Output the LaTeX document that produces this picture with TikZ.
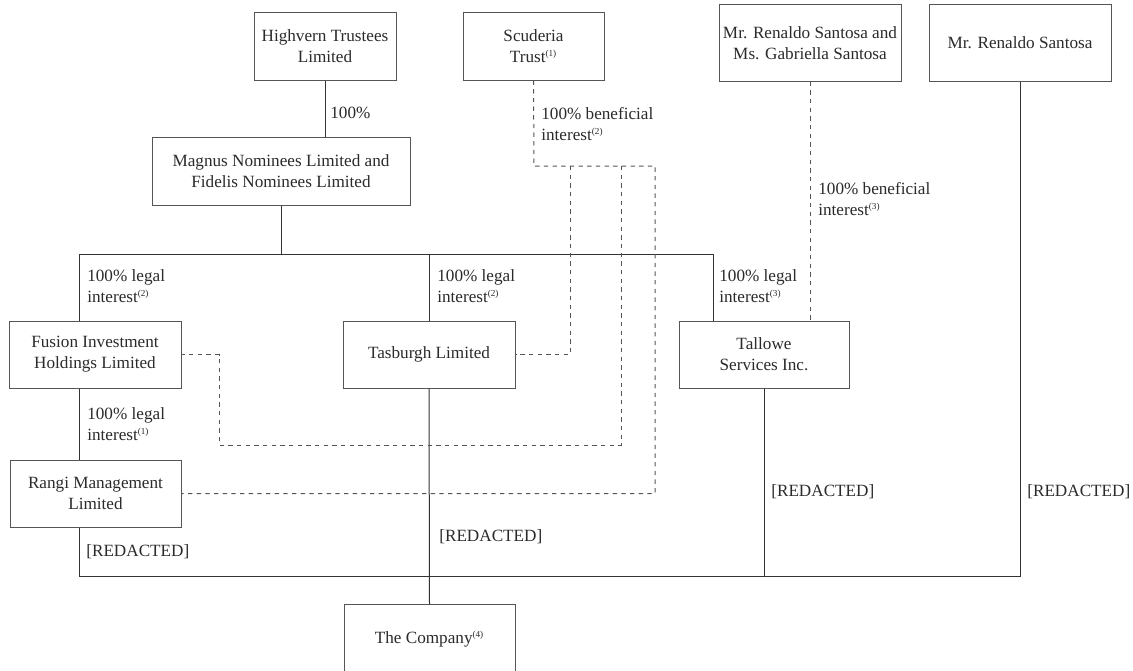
\documentclass[tikz,border=0pt]{standalone}
\usepackage{fontspec}
\setmainfont{Liberation Serif}
\newcommand{\fnm}[1]{\textsuperscript{\fontsize{5.5}{6}\selectfont(#1)}}
\definecolor{boxgray}{HTML}{555555}
\definecolor{linegray}{HTML}{333333}
\definecolor{txtgray}{HTML}{2A2A2A}
\begin{document}
\begin{tikzpicture}[x=0.6pt,y=-0.6pt,
  every node/.style={text=txtgray,font=\fontsize{10.3}{12.6}\selectfont},
  entity/.style={draw=boxgray,line width=0.6pt,align=center,inner sep=0pt},
  conn/.style={draw=linegray,line width=0.6pt},
  dconn/.style={draw=boxgray,line width=0.6pt,dash pattern=on 2.6pt off 2.6pt},
  lbl/.style={anchor=west,align=left,inner sep=0pt}]
\useasboundingbox (0,0) rectangle (1133,671);
% entities
\node[entity,minimum width=85.2pt,minimum height=40.8pt] (hv) at (325,46) {Highvern Trustees\\Limited};
\node[entity,minimum width=84.6pt,minimum height=40.8pt] (sc) at (533.5,46) {Scuderia\\Trust\fnm{1}};
\node[entity,minimum width=109.2pt,minimum height=45.9pt] (rg) at (810,42.75) {Mr. Renaldo Santosa and\\Ms. Gabriella Santosa};
\node[entity,minimum width=109.2pt,minimum height=45.9pt] (rs) at (1020,42.75) {Mr. Renaldo Santosa};
\node[entity,minimum width=154.8pt,minimum height=40.8pt] (mg) at (281,171) {Magnus Nominees Limited and\\Fidelis Nominees Limited};
\node[entity,minimum width=103.2pt,minimum height=40.2pt] (fu) at (95,354.5) {Fusion Investment\\Holdings Limited};
\node[entity,minimum width=103.2pt,minimum height=40.2pt] (ta) at (429,354.5) {Tasburgh Limited};
\node[entity,minimum width=102pt,minimum height=40.2pt] (tl) at (764,354.5) {Tallowe\\Services Inc.};
\node[entity,minimum width=102.6pt,minimum height=40.2pt] (ra) at (95.5,493.5) {Rangi Management\\Limited};
\node[entity,minimum width=102.6pt,minimum height=42pt] (co) at (429.5,639.5) {The Company\fnm{4}};
% bus coordinates
\coordinate (bl) at (79,254);
\coordinate (br) at (713,254);
\coordinate (ll) at (79,576);
\coordinate (lr) at (1020,576);
% solid connectors
\draw[conn] (hv.south) -- (hv.south |- mg.north);
\draw[conn] (mg.south) -- (mg.south |- bl);
\draw[conn] (bl |- fu.north) -- (bl) -- (br) -- (br |- tl.north);
\draw[conn] (ta.north) -- (ta.north |- bl);
\draw[conn] (fu.south -| bl) -- (ra.north -| bl);
\draw[conn] (ra.south -| ll) -- (ll) -- (lr) -- (rs.south);
\draw[conn] (ta.south) -- (co.north);
\draw[conn] (tl.south) -- (tl.south |- ll);
% dashed connectors
\coordinate (d0) at (534,166);
\coordinate (d1) at (570,166);
\coordinate (d2) at (621,166);
\coordinate (d3) at (655,166);
\coordinate (d4) at (621,445);
\coordinate (d5) at (219,445);
\draw[dconn] (sc.south) -- (d0) -- (d3) -- (d3 |- ra.east) -- (ra.east);
\draw[dconn] (d1) -- (d1 |- ta.east) -- (ta.east);
\draw[dconn] (d2) -- (d4) -- (d5) -- (d5 |- fu.east) -- (fu.east);
\draw[dconn] (rg.south) -- (rg.south |- tl.north);
% labels
\node[lbl] (l1) at (330,113) {100\%};
\node[lbl] (l2) at (541,124) {100\% beneficial\\interest\fnm{2}};
\node[lbl] (l3) at (818,199) {100\% beneficial\\interest\fnm{3}};
\node[lbl] (l4) at (87,286) {100\% legal\\interest\fnm{2}};
\node[lbl] (l5) at (437,286) {100\% legal\\interest\fnm{2}};
\node[lbl] (l6) at (719,286) {100\% legal\\interest\fnm{3}};
\node[lbl] (l7) at (87,424.5) {100\% legal\\interest\fnm{1}};
\node[lbl] (r1) at (86,552) {[REDACTED]};
\node[lbl] (r2) at (439,537) {[REDACTED]};
\node[lbl] (r3) at (771,492) {[REDACTED]};
\node[lbl] (r4) at (1027,492) {[REDACTED]};
\end{tikzpicture}
\end{document}
